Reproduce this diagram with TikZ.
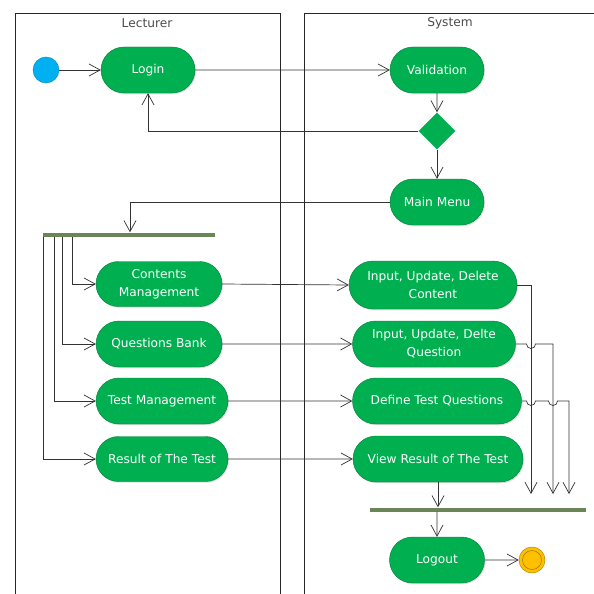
\documentclass[tikz,border=0pt]{standalone}
\usepackage{fontspec}
\setmainfont{DejaVu Sans}
\usetikzlibrary{shapes.misc,shapes.geometric,arrows.meta,shadows}
\definecolor{actgreen}{HTML}{00B050}
\definecolor{startblue}{HTML}{00B0F0}
\definecolor{endyellow}{HTML}{FFC000}
\definecolor{barolive}{HTML}{6A8557}
\begin{document}
\begin{tikzpicture}[x=1pt,y=-1pt,
  act/.style={rounded rectangle, fill=actgreen, draw=actgreen!70!black, line width=0.4pt,
    text=white, font=\fontsize{12.2}{18}\selectfont, align=center, inner sep=0pt,
    drop shadow={shadow xshift=1pt, shadow yshift=-1.2pt, fill=black!25}},
  flow/.style={draw=black!80, line width=0.7pt, -{Straight Barb[length=11pt,width=12pt]}},
  lane/.style={draw=black!85, line width=0.8pt},
  lanetitle/.style={text=black!70, font=\fontsize{12.2}{14}\selectfont},
  barnode/.style={fill=barolive, inner sep=0pt, minimum height=4pt},
  jump/.style={start angle=180, end angle=360, radius=4.5pt}
]
\useasboundingbox (0,0) rectangle (594,594);
\fill[white] (0,0) rectangle (594,594);

% swimlanes
\draw[lane] (15,594) -- (15,13) -- (280,13) -- (280,594);
\draw[lane] (304,594) -- (304,13) -- (594,13);
\node[lanetitle] (tlect) at (147,23) {Lecturer};
\node[lanetitle] (tsys) at (450,23) {System};

% start / end
\node[circle, fill=startblue, draw=startblue!75!black, line width=0.4pt, minimum size=26pt, inner sep=0pt] (start) at (46,70) {};
\node[circle, fill=endyellow, draw=endyellow!70!black, line width=0.5pt, minimum size=26pt, inner sep=0pt] (end) at (532,560) {};
\draw[endyellow!60!black, line width=0.5pt] (end.center) circle[radius=9.5pt];

% activities
\node[act, minimum width=94pt, minimum height=46pt] (login) at (148,70) {Login};
\node[act, minimum width=94pt, minimum height=46pt] (valid) at (437,70) {Validation};
\node[diamond, fill=actgreen, minimum width=37pt, minimum height=37pt, inner sep=0pt] (dec) at (437,131) {};
\node[act, minimum width=94pt, minimum height=46pt] (menu) at (437,202) {Main Menu};

\node[act, minimum width=126pt, minimum height=45pt] (cm) at (159,284) {Contents\\Management};
\node[act, minimum width=126pt, minimum height=46pt] (qb) at (159,344) {Questions Bank};
\node[act, minimum width=132pt, minimum height=46pt] (tm) at (162,401) {Test Management};
\node[act, minimum width=132pt, minimum height=45pt] (rt) at (162,459) {Result of The Test};

\node[act, minimum width=168pt, minimum height=48pt] (iudc) at (433,285) {Input, Update, Delete\\Content};
\node[act, minimum width=163pt, minimum height=46pt] (iudq) at (434,344) {Input, Update, Delte\\Question};
\node[act, minimum width=169pt, minimum height=46pt] (dtq) at (437,401) {Define Test Questions};
\node[act, minimum width=170pt, minimum height=46pt] (vr) at (438,459) {View Result of The Test};

\node[act, minimum width=95pt, minimum height=46pt] (logout) at (437,560) {Logout};

% bars
\node[barnode, minimum width=172pt] (fork) at (129,234.5) {};
\node[barnode, minimum width=216pt] (join) at (478,509.5) {};

% free ends
\coordinate (j1) at (531,494);
\coordinate (j2) at (553,494);
\coordinate (j3) at (569,494);

% connectors
\draw[flow] (start) -- (login);
\draw[flow] (login) -- (valid);
\draw[flow] (valid) -- (dec);
\draw[flow] (dec) -- (menu);
\draw[flow] (dec) -| (login);
\draw[flow] (menu.west) -| ([xshift=1pt]fork.north);

\draw[flow] ([xshift=30pt]fork.south west) |- (cm);
\draw[flow] ([xshift=20pt]fork.south west) |- (qb);
\draw[flow] ([xshift=12pt]fork.south west) |- (tm);
\draw[flow] ([xshift=0.5pt]fork.south west) |- (rt);

\draw[flow] (cm.east) -- (iudc.west);
\draw[flow] (qb) -- (iudq);
\draw[flow] (tm) -- (dtq);
\draw[flow] (rt) -- (vr);

\draw[flow] (iudc.east) -| (j1);
\draw[flow] (iudq.east) -- (526.5,344) arc[jump] -- (553,344) -- (j2);
\draw[flow] (dtq.east) -- (526.5,401) arc[jump] -- (548.5,401) arc[jump] -- (569,401) -- (j3);

\draw[flow] (vr.south) -- (vr.south |- join.north);
\draw[flow] (join.south -| logout) -- (logout);
\draw[flow] (logout) -- (end);
\end{tikzpicture}
\end{document}
